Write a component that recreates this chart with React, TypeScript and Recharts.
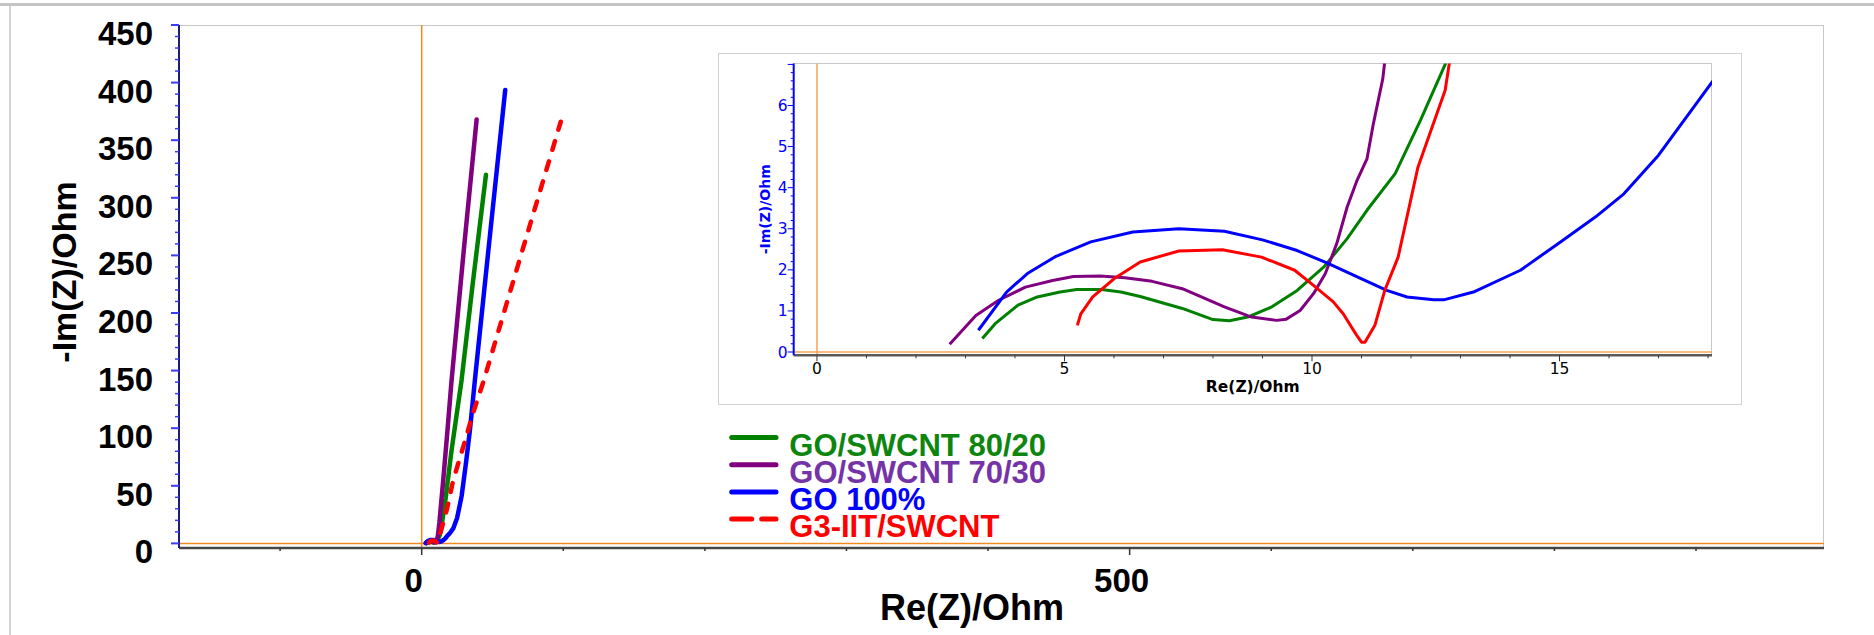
import React from 'react';
import { LineChart, Line, XAxis, YAxis, ReferenceLine, Legend } from 'recharts';

// ---------- data ----------
const seriesNames = ['GO/SWCNT 80/20', 'GO/SWCNT 70/30', 'GO 100%', 'G3-IIT/SWCNT'];
const lineColors = ['#008000', '#800080', '#0000ff', '#ff0000'];
const textColors = ['#0e850e', '#7433a6', '#0000ff', '#ff0000'];

const greenRe = [3.34, 3.6, 4.06, 4.45, 4.91, 5.25, 5.75, 6.14, 6.53, 7.38, 8.0, 8.33, 8.7, 9.19, 9.7, 10.24, 10.71, 11.11, 11.68, 12.19, 12.69, 14, 17, 21, 28.2, 36, 45.4];
const greenIm = [0.33, 0.69, 1.14, 1.34, 1.46, 1.52, 1.52, 1.46, 1.35, 1.06, 0.79, 0.76, 0.85, 1.1, 1.5, 2.07, 2.76, 3.45, 4.34, 5.64, 7.0, 15, 40, 80, 142, 225, 320];

const purpleRe = [2.68, 3.21, 3.67, 4.21, 4.76, 5.18, 5.72, 6.22, 6.77, 7.38, 8.23, 8.78, 9.29, 9.48, 9.76, 10.03, 10.27, 10.5, 10.71, 10.91, 11.11, 11.24, 11.43, 12.5, 15, 18, 21, 30, 38.8];
const purpleIm = [0.19, 0.89, 1.26, 1.58, 1.74, 1.84, 1.85, 1.81, 1.72, 1.54, 1.1, 0.85, 0.77, 0.8, 1.01, 1.42, 1.91, 2.64, 3.53, 4.18, 4.7, 5.56, 6.65, 18, 52, 95, 140, 258, 368];

const blueRe = [3.26, 3.83, 4.25, 4.83, 5.53, 6.38, 7.31, 8.23, 9.0, 9.7, 10.3, 10.98, 11.51, 11.92, 12.46, 12.66, 13.26, 14.21, 15.02, 15.73, 16.3, 17.0, 18.08, 20, 22.3, 25, 28.2, 31.3, 34.1, 37.6, 48, 59];
const blueIm = [0.53, 1.46, 1.91, 2.33, 2.68, 2.92, 3.0, 2.94, 2.73, 2.47, 2.17, 1.79, 1.5, 1.34, 1.27, 1.27, 1.46, 1.99, 2.68, 3.29, 3.85, 4.79, 6.57, 9, 13, 22, 41, 70, 98.6, 142, 265, 393.6];

const redRe = [5.26, 5.33, 5.57, 6.03, 6.53, 7.31, 8.19, 8.98, 9.65, 10.03, 10.43, 10.63, 10.9, 11.0, 11.07, 11.27, 11.47, 11.74, 12.14, 12.69, 12.77, 15, 17.7, 22.3, 29.4, 36, 44, 72, 98.2];
const redIm = [0.65, 0.93, 1.34, 1.81, 2.19, 2.46, 2.49, 2.31, 1.99, 1.62, 1.22, 0.93, 0.41, 0.24, 0.24, 0.65, 1.5, 2.31, 4.5, 6.37, 7.0, 17, 29, 55, 84, 112, 142, 258, 366];

const mainXTicks = [-100, 0, 100, 200, 300, 400, 500, 600, 700, 800, 900];
const mainXLabels = [0, 500];
const mainYLabels = [0, 50, 100, 150, 200, 250, 300, 350, 400, 450];
const mainYMinorStep = 10;
const insetXTicks = [0, 1, 2, 3, 4, 5, 6, 7, 8, 9, 10, 11, 12, 13, 14, 15, 16, 17, 18];
const insetXLabels = [0, 5, 10, 15];
const insetYLabels = [0, 1, 2, 3, 4, 5, 6];
const insetYMinorPerUnit = 5;

// ---------- derived ----------
const toPoints = (re: number[], im: number[]) => re.map((r, i) => ({ re: r, im: im[i] }));
const series = [
  { name: seriesNames[0], data: toPoints(greenRe, greenIm), color: lineColors[0], text: textColors[0], dash: undefined as string | undefined },
  { name: seriesNames[1], data: toPoints(purpleRe, purpleIm), color: lineColors[1], text: textColors[1], dash: undefined },
  { name: seriesNames[2], data: toPoints(blueRe, blueIm), color: lineColors[2], text: textColors[2], dash: undefined },
  { name: seriesNames[3], data: toPoints(redRe, redIm), color: lineColors[3], text: textColors[3], dash: '9 12' },
];
const mainYTicks: number[] = [];
for (let v = 0; v <= 450; v += mainYMinorStep) mainYTicks.push(v);
const insetYTicks: number[] = [];
for (let i = 0; i <= 7 * insetYMinorPerUnit; i++) insetYTicks.push(i / insetYMinorPerUnit);

const MAIN_FONT = "'Liberation Sans', Arial, sans-serif";
const INSET_FONT = "'DejaVu Sans', Verdana, sans-serif";
const ORANGE = '#f28a1e';

// ---------- ticks ----------
const MainYTick = (props: any) => {
  const { x, y, payload } = props;
  const v = payload.value;
  const major = mainYLabels.includes(v);
  return (
    <g>
      <line x1={x - (major ? 8 : 4)} x2={x} y1={y} y2={y} stroke="#3b3bff" strokeWidth={major ? 2 : 1.5} />
      {major && (
        <text x={x - 26} y={y + 20} textAnchor="end" fontSize={33} fontWeight="bold" fontFamily={MAIN_FONT} fill="#000">
          {v}
        </text>
      )}
    </g>
  );
};

const MainXTick = (props: any) => {
  const { x, y, payload } = props;
  const v = payload.value;
  const major = mainXLabels.includes(v);
  return (
    <g>
      <line x1={x} x2={x} y1={y} y2={y + (major ? 7 : 3)} stroke="#333" strokeWidth={1.5} />
      {major && (
        <text x={x - 8} y={y + 44} textAnchor="middle" fontSize={33} fontWeight="bold" fontFamily={MAIN_FONT} fill="#000">
          {v}
        </text>
      )}
    </g>
  );
};

const InsetYTick = (props: any) => {
  const { x, y, payload } = props;
  const v = payload.value;
  const isInt = Math.abs(v - Math.round(v)) < 1e-6;
  const labeled = isInt && insetYLabels.includes(Math.round(v));
  return (
    <g>
      <line x1={x - (isInt ? 6 : 3)} x2={x} y1={y} y2={y} stroke="#0000ff" strokeWidth={1} />
      {labeled && (
        <text x={x - 6} y={y + 5.5} textAnchor="end" fontSize={15.5} fontFamily={INSET_FONT} fill="#0000ff">
          {Math.round(v)}
        </text>
      )}
    </g>
  );
};

const InsetXTick = (props: any) => {
  const { x, y, payload } = props;
  const v = payload.value;
  const major = insetXLabels.includes(v);
  return (
    <g>
      <line x1={x} x2={x} y1={y} y2={y + (major ? 6 : 3)} stroke="#333" strokeWidth={1} />
      {major && (
        <text x={x} y={y + 19} textAnchor="middle" fontSize={15.5} fontFamily={INSET_FONT} fill="#000">
          {v}
        </text>
      )}
    </g>
  );
};

// ---------- legend ----------
const LEG_LEFT = 720;
const LEG_TOP = 420;
const LegendContent = () => (
  <svg width={420} height={130} style={{ display: 'block', overflow: 'visible' }}>
    {series.map((s, i) => (
      <g key={s.name}>
        <line
          x1={731.7 - LEG_LEFT}
          x2={776 - LEG_LEFT}
          y1={437.5 + 27.2 * i - LEG_TOP}
          y2={437.5 + 27.2 * i - LEG_TOP}
          stroke={s.color}
          strokeWidth={5}
          strokeLinecap="round"
          strokeDasharray={s.dash ? '20 10' : undefined}
        />
        <text
          x={789.3 - LEG_LEFT}
          y={456 + 27 * i - LEG_TOP}
          fontSize={31}
          fontWeight="bold"
          fontFamily={MAIN_FONT}
          fill={s.text}
        >
          {s.name}
        </text>
      </g>
    ))}
  </svg>
);

export default function App() {
  return (
    <div style={{ position: 'absolute', left: 0, top: 0, width: 1874, height: 635, background: '#fff', overflow: 'hidden' }}>
      {/* page frame */}
      <div style={{ position: 'absolute', left: 0, top: 3, width: 1874, height: 3, background: '#c4c4c4' }} />
      <div style={{ position: 'absolute', left: 9, top: 6, width: 2, height: 629, background: '#d4d4d4' }} />
      {/* main plot frame */}
      <div style={{ position: 'absolute', left: 179, top: 25, width: 1645, height: 523, borderTop: '1.5px solid #c8c8c8', borderRight: '1.5px solid #c8c8c8', boxSizing: 'border-box' }} />

      <div style={{ position: 'absolute', left: 0, top: 0 }}>
        <LineChart width={1874} height={635} margin={{ top: 25, right: 50, bottom: 27, left: 79 }}>
          <XAxis
            type="number"
            dataKey="re"
            domain={[-171.4, 990.4]}
            ticks={mainXTicks}
            interval={0}
            allowDataOverflow
            height={60}
            tickSize={0}
            tickMargin={0}
            tickLine={false}
            tick={(p: any) => <MainXTick {...p} />}
            axisLine={{ stroke: '#474747', strokeWidth: 2.5 }}
            label={{
              content: () => (
                <text x={972} y={620} textAnchor="middle" fontSize={36} fontWeight="bold" fontFamily={MAIN_FONT} fill="#000">
                  Re(Z)/Ohm
                </text>
              ),
            }}
          />
          <YAxis
            type="number"
            dataKey="im"
            domain={[-4, 450]}
            ticks={mainYTicks}
            interval={0}
            allowDataOverflow
            width={100}
            tickSize={0}
            tickMargin={0}
            tickLine={false}
            tick={(p: any) => <MainYTick {...p} />}
            axisLine={{ stroke: '#1d1d6b', strokeWidth: 2 }}
            label={{
              content: () => (
                <text x={76} y={272} transform="rotate(-90 76 272)" textAnchor="middle" fontSize={34} fontWeight="bold" fontFamily={MAIN_FONT} fill="#000">
                  -Im(Z)/Ohm
                </text>
              ),
            }}
          />
          <ReferenceLine x={0} stroke={ORANGE} strokeWidth={1.5} />
          <ReferenceLine y={0} stroke={ORANGE} strokeWidth={1.5} />
          {series.map((s) => (
            <Line
              key={s.name}
              data={s.data}
              dataKey="im"
              name={s.name}
              type="linear"
              stroke={s.color}
              strokeWidth={4.5}
              strokeDasharray={s.dash}
              strokeLinecap="round"
              strokeLinejoin="round"
              dot={false}
              activeDot={false}
              isAnimationActive={false}
            />
          ))}
          <Legend
            layout="vertical"
            align="center"
            verticalAlign="middle"
            content={() => <LegendContent />}
            wrapperStyle={{ position: 'absolute', left: LEG_LEFT, top: LEG_TOP, width: 420, height: 130 }}
          />
        </LineChart>
      </div>

      {/* inset */}
      <div style={{ position: 'absolute', left: 717.7, top: 52.7, width: 1024, height: 352.6, border: '1.5px solid #d2d2d2', boxSizing: 'border-box', background: '#fff' }} />
      <div style={{ position: 'absolute', left: 793.4, top: 63.3, width: 918.3, height: 291.7, borderTop: '1.5px solid #c8c8c8', borderRight: '1.5px solid #c8c8c8', boxSizing: 'border-box' }} />
      <div style={{ position: 'absolute', left: 717.7, top: 52.7 }}>
        <LineChart width={1024} height={353} margin={{ top: 10.6, right: 30, bottom: 10.7, left: 15.7 }}>
          <XAxis
            type="number"
            dataKey="re"
            domain={[-0.47, 18.08]}
            ticks={insetXTicks}
            interval={0}
            allowDataOverflow
            height={40}
            tickSize={0}
            tickMargin={0}
            tickLine={false}
            tick={(p: any) => <InsetXTick {...p} />}
            axisLine={{ stroke: '#5a5a5a', strokeWidth: 2.5 }}
            label={{
              content: () => (
                <text x={1252.5 - 717.7} y={392 - 52.7} textAnchor="middle" fontSize={15.5} fontWeight="bold" fontFamily={INSET_FONT} fill="#000">
                  Re(Z)/Ohm
                </text>
              ),
            }}
          />
          <YAxis
            type="number"
            dataKey="im"
            domain={[-0.08, 7.02]}
            ticks={insetYTicks}
            interval={0}
            allowDataOverflow
            width={60}
            tickSize={0}
            tickMargin={0}
            tickLine={false}
            tick={(p: any) => <InsetYTick {...p} />}
            axisLine={{ stroke: '#0000ff', strokeWidth: 2 }}
            label={{
              content: () => (
                <text x={770 - 717.7} y={209 - 52.7} transform={`rotate(-90 ${770 - 717.7} ${209 - 52.7})`} textAnchor="middle" fontSize={14} fontWeight="bold" fontFamily={INSET_FONT} fill="#0000ff">
                  -Im(Z)/Ohm
                </text>
              ),
            }}
          />
          <ReferenceLine x={0} stroke="#f6a555" strokeWidth={1.5} />
          <ReferenceLine y={0} stroke="#f6a555" strokeWidth={1.5} />
          {series.map((s) => (
            <Line
              key={s.name}
              data={s.data}
              dataKey="im"
              name={s.name}
              type="linear"
              stroke={s.color}
              strokeWidth={3}
              strokeLinejoin="round"
              dot={false}
              activeDot={false}
              isAnimationActive={false}
            />
          ))}
        </LineChart>
      </div>
    </div>
  );
}
